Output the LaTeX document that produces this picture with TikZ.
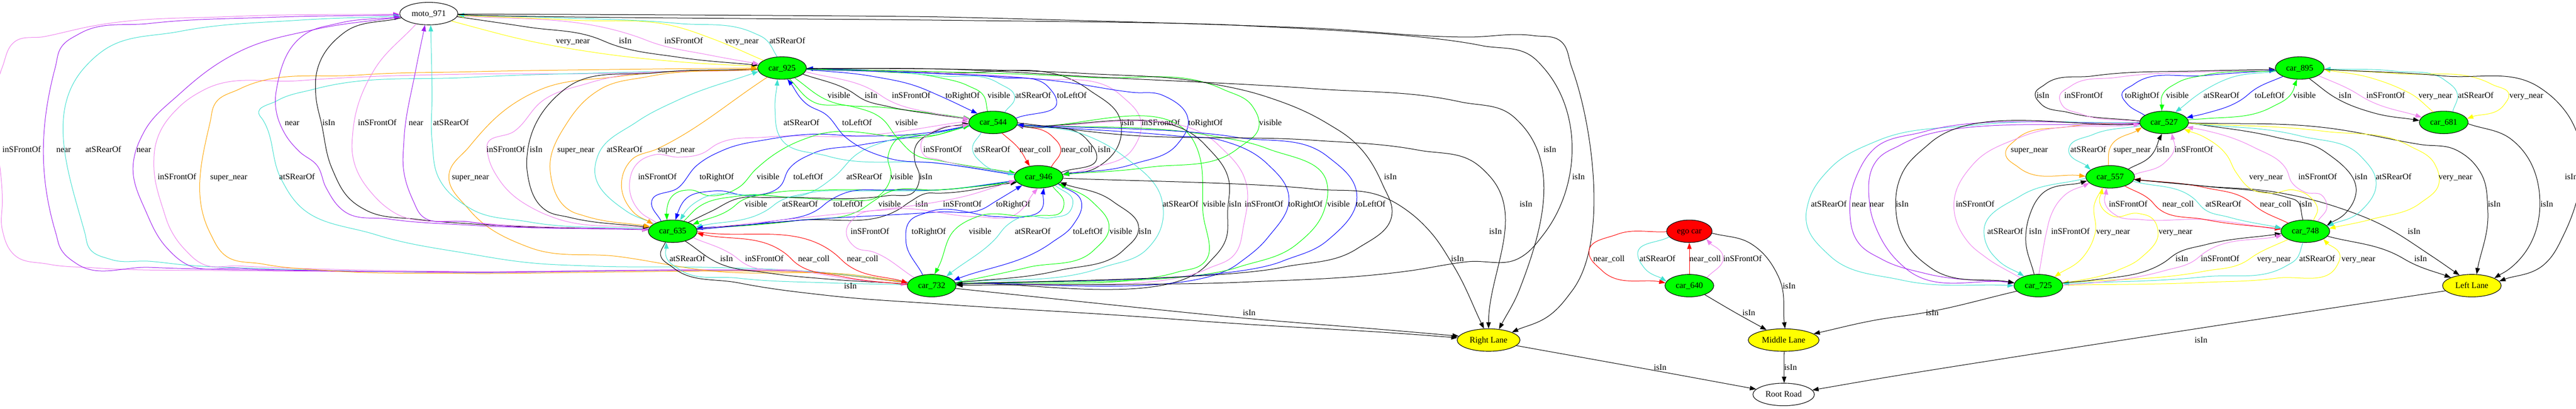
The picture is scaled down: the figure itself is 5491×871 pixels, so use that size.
\documentclass[tikz,border=0pt]{standalone}
\usepackage{fontspec}
\setmainfont{Liberation Serif}
\usetikzlibrary{shapes.geometric,arrows.meta}
\definecolor{cviol}{HTML}{EE82EE}
\definecolor{cpurp}{HTML}{A020F0}
\definecolor{cturq}{HTML}{40E0D0}
\definecolor{corange}{HTML}{FFA500}
\definecolor{clime}{HTML}{00FF00}
\definecolor{cblue}{HTML}{0000FF}
\definecolor{cred}{HTML}{FF0000}
\definecolor{cyel}{HTML}{FFFF00}
\tikzset{
 gnode/.style={ellipse,draw=black,line width=1.2pt,inner sep=0pt,minimum height=48pt,
   font=\fontsize{18}{20}\selectfont,text height=12pt,text depth=1pt,text=black},
 carnode/.style={gnode,fill=clime,minimum width=104pt},
 lanenode/.style={gnode,fill=cyel},
 edgeline/.style={line width=1.1pt,-{Triangle[length=13.3pt,width=9.6pt]}},
 edgelabel/.style={anchor=base west,inner sep=0pt,font=\fontsize{18}{20}\selectfont,text=black}
}
\newcounter{edgeno}
\makeatletter
\newcount\wpn \newcount\wpi \newcount\wpj \newcount\wpk \newdimen\edgd
\def\addpt#1#2{\advance\wpn1 \expandafter\edef\csname wpx\the\wpn\endcsname{#1}\expandafter\edef\csname wpy\the\wpn\endcsname{#2}}
\def\scanwp(#1,#2){\addpt{#1}{#2}\@ifnextchar(\scanwp{\relax}}
\def\cs#1{\csname #1\endcsname}
\def\mkpath{%
 % segment directions and lengths
 \wpi=1
 \loop\ifnum\wpi<\wpn
   \wpj=\wpi \advance\wpj1
   \pgfmathsetmacro\sdx{\cs{wpx\the\wpj}-(\cs{wpx\the\wpi})}%
   \pgfmathsetmacro\sdy{\cs{wpy\the\wpj}-(\cs{wpy\the\wpi})}%
   \pgfmathsetmacro\slen{max(veclen(\sdx,\sdy),0.01)}%
   \pgfmathsetmacro\sux{\sdx/\slen}\pgfmathsetmacro\suy{\sdy/\slen}%
   \expandafter\let\csname ux\the\wpi\endcsname\sux
   \expandafter\let\csname uy\the\wpi\endcsname\suy
   \expandafter\let\csname ln\the\wpi\endcsname\slen
   \advance\wpi1
 \repeat
 % tangents
 \expandafter\let\csname tx1\endcsname\relax
 \expandafter\edef\csname tx1\endcsname{\cs{ux1}}%
 \expandafter\edef\csname ty1\endcsname{\cs{uy1}}%
 \wpk=\wpn \advance\wpk-1
 \expandafter\edef\csname tx\the\wpn\endcsname{\cs{ux\the\wpk}}%
 \expandafter\edef\csname ty\the\wpn\endcsname{\cs{uy\the\wpk}}%
 \wpi=2
 \loop\ifnum\wpi<\wpn
   \wpk=\wpi \advance\wpk-1
   \pgfmathsetmacro\sw{\cs{ln\the\wpi}/(\cs{ln\the\wpk}+\cs{ln\the\wpi})}%
   \pgfmathsetmacro\stx{\sw*\cs{ux\the\wpk}+(1-\sw)*\cs{ux\the\wpi}}%
   \pgfmathsetmacro\sty{\sw*\cs{uy\the\wpk}+(1-\sw)*\cs{uy\the\wpi}}%
   \pgfmathsetmacro\sn{max(veclen(\stx,\sty),0.001)}%
   \pgfmathsetmacro\stx{\stx/\sn}\pgfmathsetmacro\sty{\sty/\sn}%
   \expandafter\let\csname tx\the\wpi\endcsname\stx
   \expandafter\let\csname ty\the\wpi\endcsname\sty
   \advance\wpi1
 \repeat
 % path text
 \edef\epath{(\cs{wpx1},\cs{wpy1})}%
 \wpi=1
 \loop\ifnum\wpi<\wpn
   \wpj=\wpi \advance\wpj1
   \pgfmathsetmacro\sL{min(0.36*\cs{ln\the\wpi},130)}%
   \pgfmathsetmacro\cax{\cs{wpx\the\wpi}+\cs{tx\the\wpi}*\sL}%
   \pgfmathsetmacro\cay{\cs{wpy\the\wpi}+\cs{ty\the\wpi}*\sL}%
   \pgfmathsetmacro\cbx{\cs{wpx\the\wpj}-\cs{tx\the\wpj}*\sL}%
   \pgfmathsetmacro\cby{\cs{wpy\the\wpj}-\cs{ty\the\wpj}*\sL}%
   \edef\epath{\epath .. controls (\cax,\cay) and (\cbx,\cby) .. (\cs{wpx\the\wpj},\cs{wpy\the\wpj})}%
   \advance\wpi1
 \repeat
}
% colour, source, target, tail hint, way points, head hint, label x, label y, label text
\newcommand\edge[9]{%
 \stepcounter{edgeno}%
 \coordinate (ta) at (#4);\coordinate (tb) at (#6);%
 \pgfcoordinate{ea}{\pgfpointshapeborder{#2}{\pgfpointanchor{ta}{center}}}%
 \pgfcoordinate{eb}{\pgfpointshapeborder{#3}{\pgfpointanchor{tb}{center}}}%
 \wpn=0
 \pgfextractx\edgd{\pgfpointanchor{ea}{center}}\edef\eax{\strip@pt\edgd}%
 \pgfextracty\edgd{\pgfpointanchor{ea}{center}}\edgd=-\edgd\edef\eay{\strip@pt\edgd}%
 \addpt{\eax}{\eay}%
 \scanwp #5\relax
 \pgfextractx\edgd{\pgfpointanchor{eb}{center}}\edef\ebx{\strip@pt\edgd}%
 \pgfextracty\edgd{\pgfpointanchor{eb}{center}}\edgd=-\edgd\edef\eby{\strip@pt\edgd}%
 \addpt{\ebx}{\eby}%
 \mkpath
 \edef\tmpdraw{\noexpand\draw[edgeline,#1] \epath;}\tmpdraw
 \node[edgelabel] (lab\theedgeno) at (#7,#8+6) {#9};%
}
\makeatother
\begin{document}
\begin{tikzpicture}[x=1pt,y=-1pt]
\useasboundingbox (0,0) rectangle (5491,871);
% nodes
\node[gnode,minimum width=124pt] (moto) at (914,29) {moto\_971};
\node[carnode] (c925) at (1667,145) {car\_925};
\node[carnode] (c544) at (2117,261) {car\_544};
\node[carnode] (c946) at (2214,377) {car\_946};
\node[carnode] (c635) at (1434,493) {car\_635};
\node[carnode] (c732) at (1986,609) {car\_732};
\node[lanenode,minimum width=134pt] (rl) at (3173,725) {Right Lane};
\node[lanenode,minimum width=151pt] (ml) at (3802,725) {Middle Lane};
\node[gnode,minimum width=131pt] (root) at (3802,841) {Root Road};
\node[gnode,fill=cred,minimum width=97pt] (ego) at (3601,493) {ego car};
\node[carnode] (c640) at (3601,609) {car\_640};
\node[carnode] (c895) at (4902,145) {car\_895};
\node[carnode] (c527) at (4613,261) {car\_527};
\node[carnode] (c681) at (5209,261) {car\_681};
\node[carnode] (c557) at (4498,377) {car\_557};
\node[carnode] (c748) at (4914,493) {car\_748};
\node[carnode] (c725) at (4345,609) {car\_725};
\node[lanenode,minimum width=125pt] (ll) at (5269,609) {Left Lane};
% moto <-> car_925
\edge{cyel}{moto}{c925}{963,45}{(1000,55)(1127,87)(1255,110)(1450,132)}{1605,141}{1185}{87}{very\_near}
\edge{black}{moto}{c925}{978,36}{(1127,58)(1268,80)(1306,95)(1446,122)}{1605,138}{1319}{87}{isIn}
\edge{cviol}{moto}{c925}{978,34}{(1000,35)(1357,78)(1395,92)(1510,117)}{1615,136}{1416}{87}{inSFrontOf}
\edge{cyel}{c925}{moto}{1628,129}{(1517,82)(1446,58)(1223,43)}{978,33}{1545}{87}{very\_near}
\edge{cturq}{c925}{moto}{1657,122}{(1631,83)(1606,70)(1446,50)(1191,38)}{978,32}{1640}{87}{atSRearOf}
% car_732 -> moto
\edge{cviol}{c732}{moto}{1935,603}{(1830,590)(1765,583)(1000,580)(500,577)(200,571)(102,563)(30,543)(5,490)(5,430)(5,143)(30,90)(95,78)(200,55)(500,35)}{845,30}{5}{319}{inSFrontOf}
\edge{cpurp}{c732}{moto}{1935,603}{(1830,590)(1765,582)(1000,580)(638,577)(319,570)(163,562)(131,533)(119,497)(118,143)(131,100)(169,72)(319,50)(574,37)}{845,32}{120}{319}{near}
\edge{cturq}{c732}{moto}{1935,603}{(1830,590)(1765,582)(1000,581)(765,578)(574,573)(395,565)(319,557)(236,553)(191,530)(181,497)(181,143)(217,110)(383,67)(638,43)}{845,35}{182}{319}{atSRearOf}
\edge{cpurp}{c732}{moto}{1935,603}{(1830,590)(1765,582)(1000,581)(700,577)(510,572)(395,562)(357,530)(312,453)(284,350)(306,283)(383,200)(510,110)(670,63)}{845,37}{291}{319}{near}
% car_732 -> car_925
\edge{cviol}{c732}{c925}{1935,603}{(1830,590)(1765,582)(1000,579)(700,574)(510,567)(430,562)(395,533)(364,490)(348,447)(328,350)(332,307)(383,227)(434,192)(638,172)(1000,158)(1255,157)}{1615,147}{336}{377}{inSFrontOf}
\edge{corange}{c732}{c925}{1935,603}{(1830,590)(1765,583)(1000,583)(702,577)(561,563)(478,543)(448,497)(448,260)(459,220)(510,190)(765,160)(1000,153)(1319,148)}{1615,145}{448}{377}{super\_near}
\edge{cturq}{c732}{c925}{1932,600}{(1700,577)(1510,570)(1255,567)(1127,560)(1000,541)(800,500)(630,430)(600,383)(560,255)(552,243)(590,215)(670,190)(1000,165)(1300,155)}{1620,148}{595}{377}{atSRearOf}
\edge{corange}{c732}{c925}{1931,602}{(1829,587)(1510,577)(1319,547)(1127,527)(1000,447)(957,373)(1000,313)(1108,213)(1147,193)(1319,163)}{1616,146}{963}{377}{super\_near}
% moto <-> car_635
\edge{cpurp}{c635}{moto}{1385,490}{(1000,480)(829,467)(733,450)(695,400)(676,353)(638,323)(606,283)(587,213)(590,187)(650,73)(720,50)}{845,37}{607}{261}{near}
\edge{black}{moto}{c635}{855,38}{(733,70)(676,150)(673,200)(686,267)(708,360)(752,430)(778,447)(893,468)(1000,477)}{1385,490}{687}{261}{isIn}
\edge{cviol}{moto}{c635}{886,52}{(797,150)(752,283)(752,333)(797,417)(835,450)(1000,473)}{1385,490}{763}{261}{inSFrontOf}
\edge{cpurp}{c635}{moto}{1385,490}{(1000,473)(893,453)(883,433)(861,367)(861,300)(886,150)}{906,53}{871}{261}{near}
\edge{cturq}{c635}{moto}{1385,488}{(1127,473)(1000,443)(937,383)(921,300)(921,200)}{918,53}{923}{261}{atSRearOf}
% car_925 <-> car_635
\edge{cviol}{c925}{c635}{1616,148}{(1255,177)(1159,213)(1096,280)(1038,310)(1040,330)(1064,383)(1147,450)(1178,463)}{1385,487}{1037}{319}{inSFrontOf}
\edge{black}{c925}{c635}{1616,148}{(1400,155)(1204,190)(1124,327)(1124,367)(1166,450)(1212,463)}{1385,485}{1129}{319}{isIn}
\edge{corange}{c925}{c635}{1616,148}{(1383,163)(1280,190)(1210,260)(1173,367)(1217,450)(1245,460)}{1385,483}{1188}{319}{super\_near}
\edge{cturq}{c635}{c925}{1390,475}{(1335,450)(1268,360)(1274,333)(1357,260)(1446,213)}{1618,152}{1293}{319}{atSRearOf}
\edge{corange}{c925}{c635}{1635,165}{(1402,317)(1344,343)(1325,387)(1348,450)}{1392,478}{1402}{319}{super\_near}
% car_635 <-> car_544
\edge{cviol}{c635}{c544}{1400,475}{(1363,450)(1342,390)(1357,350)(1395,330)(1446,335)(1497,327)(1529,307)(1638,292)(1829,290)}{2065,258}{1360}{377}{inSFrontOf}
\edge{cblue}{c635}{c544}{1410,472}{(1389,430)(1446,400)(1485,353)(1542,320)(1638,297)(1733,286)(1829,290)(2000,280)}{2065,268}{1491}{377}{toRightOf}
\edge{clime}{c544}{c635}{2065,265}{(2000,287)(1733,290)(1670,317)(1612,360)(1574,400)(1510,417)(1472,405)(1434,417)(1421,450)}{1421,468}{1613}{377}{visible}
\edge{cblue}{c544}{c635}{2065,268}{(2000,282)(1829,310)(1733,327)(1682,360)(1663,397)(1606,417)(1523,407)(1459,427)(1446,450)}{1440,468}{1691}{377}{toLeftOf}
\edge{cturq}{c544}{c635}{2065,270}{(2000,283)(1893,300)(1829,327)(1778,377)(1721,413)(1600,415)(1497,423)(1462,450)}{1450,469}{1804}{377}{atSRearOf}
\edge{clime}{c635}{c544}{1459,470}{(1491,440)(1574,418)(1701,422)(1797,426)(1874,417)(1899,377)(1893,333)(1906,303)(2000,287)}{2065,268}{1898}{377}{visible}
\edge{black}{c635}{c544}{1469,473}{(1517,450)(1574,423)(1638,421)(1893,417)(1950,407)(1960,377)(1950,343)(1950,317)(2000,277)}{2065,263}{1960}{377}{isIn}
% car_946 <-> car_635
\edge{clime}{c946}{c635}{2162,388}{(2000,405)(1765,405)(1638,413)(1577,430)(1561,443)}{1481,477}{1587}{435}{visible}
\edge{cturq}{c946}{c635}{2162,385}{(2000,405)(1850,407)(1720,412)(1660,430)(1638,446)}{1491,483}{1667}{435}{atSRearOf}
\edge{cblue}{c946}{c635}{2162,386}{(2000,405)(1893,405)(1797,413)(1765,430)(1746,445)(1638,473)}{1491,486}{1776}{435}{toLeftOf}
\edge{clime}{c635}{c946}{1491,488}{(1700,470)(1835,447)(1860,430)(1893,410)(2000,405)}{2162,390}{1872}{435}{visible}
\edge{black}{c635}{c946}{1491,487}{(1700,470)(1918,445)(1940,430)(1976,412)(2000,412)}{2162,390}{1951}{435}{isIn}
\edge{cviol}{c635}{c946}{1491,488}{(1750,460)(1893,445)(2000,430)(2050,420)}{2162,385}{2010}{435}{inSFrontOf}
\edge{cblue}{c635}{c946}{1491,489}{(1700,470)(2000,452)(2096,445)(2121,430)}{2179,395}{2123}{435}{toRightOf}
% car_925 <-> car_544
\edge{clime}{c925}{c544}{1695,167}{(1762,213)(1893,230)(2000,243)}{2067,253}{1764}{203}{visible}
\edge{black}{c925}{c544}{1711,158}{(1810,193)(1842,213)(1893,227)(2000,245)}{2067,254}{1843}{203}{isIn}
\edge{cviol}{c925}{c544}{1719,153}{(1861,193)(1893,213)(2000,243)}{2067,254}{1901}{203}{inSFrontOf}
\edge{cblue}{c925}{c544}{1719,148}{(1861,163)(1957,185)(2000,203)}{2080,240}{2015}{203}{toRightOf}
\edge{clime}{c544}{c925}{2105,237}{(2096,203)(2064,183)(2000,165)(1861,152)}{1719,146}{2105}{203}{visible}
\edge{cturq}{c544}{c925}{2143,238}{(2163,207)(2128,177)(2000,162)(1861,150)}{1719,146}{2164}{203}{atSRearOf}
\edge{cblue}{c544}{c925}{2166,252}{(2252,213)(2236,187)(2128,165)(2000,157)(1861,150)}{1719,146}{2253}{203}{toLeftOf}
% car_925 <-> car_946
\edge{cturq}{c946}{c925}{2153,370}{(2000,348)(1765,333)(1663,293)(1652,233)}{1657,170}{1670}{261}{atSRearOf}
\edge{cblue}{c946}{c925}{2153,372}{(2000,348)(1893,337)(1803,293)(1759,243)(1721,223)}{1679,170}{1795}{261}{toLeftOf}
\edge{clime}{c925}{c946}{1682,167}{(1733,217)(1816,227)(1880,253)(1912,293)(1957,333)(2000,342)}{2160,368}{1908}{261}{visible}
\edge{black}{c925}{c946}{1719,148}{(2000,155)(2319,190)(2389,260)(2389,293)(2338,357)}{2264,372}{2390}{261}{isIn}
\edge{cviol}{c925}{c946}{1719,148}{(2000,155)(2191,167)(2389,203)(2432,260)(2415,317)(2319,360)}{2264,374}{2433}{261}{inSFrontOf}
\edge{cblue}{c925}{c946}{1719,148}{(2000,157)(2255,173)(2415,197)(2478,203)(2533,260)(2510,307)(2415,350)}{2264,372}{2533}{261}{toRightOf}
\edge{clime}{c925}{c946}{1719,148}{(2000,153)(2319,165)(2606,190)(2670,227)(2684,267)(2638,317)(2446,357)}{2264,372}{2684}{261}{visible}
% car_544 <-> car_946
\edge{cturq}{c544}{c946}{2089,285}{(2073,317)(2096,350)}{2160,373}{2077}{319}{atSRearOf}
\edge{cred}{c544}{c946}{2137,285}{(2172,317)}{2194,353}{2173}{319}{near\_coll}
\edge{cred}{c946}{c544}{2242,355}{(2261,317)(2242,290)}{2172,265}{2262}{319}{near\_coll}
\edge{black}{c946}{c544}{2265,367}{(2338,333)(2319,300)}{2169,267}{2340}{319}{isIn}
\edge{cviol}{c946}{c544}{2160,370}{(2000,340)(1969,330)(1963,307)(1995,277)}{2065,266}{1968}{319}{inSFrontOf}
% car_544 <-> car_732
\edge{cturq}{c544}{c732}{2169,265}{(2319,290)(2395,333)(2478,433)(2478,473)(2446,530)(2351,570)}{2038,603}{2478}{435}{atSRearOf}
\edge{clime}{c732}{c544}{2038,605}{(2510,580)(2564,562)(2564,450)(2548,308)}{2169,267}{2564}{435}{visible}
\edge{black}{c544}{c732}{2169,267}{(2568,308)(2619,383)(2617,447)(2612,513)(2574,563)}{2038,606}{2619}{435}{isIn}
\edge{cviol}{c732}{c544}{2038,605}{(2574,573)(2631,543)(2651,480)(2654,383)(2596,308)}{2169,267}{2653}{435}{inSFrontOf}
\edge{cblue}{c544}{c732}{2169,267}{(2510,290)(2606,300)(2702,350)(2747,417)(2702,507)(2638,563)}{2038,606}{2746}{435}{toRightOf}
\edge{clime}{c544}{c732}{2169,267}{(2574,288)(2702,317)(2829,393)(2823,447)(2765,520)(2638,570)}{2038,605}{2829}{435}{visible}
\edge{cblue}{c732}{c544}{2038,606}{(2733,557)(2829,513)(2892,413)(2829,333)(2638,293)}{2169,266}{2890}{435}{toLeftOf}
% car_732 <-> car_946
\edge{cviol}{c732}{c946}{1938,587}{(1861,537)(1823,527)(1804,493)(1823,463)(1893,447)(2083,462)(2159,460)}{2212,403}{1813}{493}{inSFrontOf}
\edge{cblue}{c732}{c946}{1966,585}{(1931,513)(1938,473)(1976,453)(2128,462)(2185,462)(2217,450)}{2226,403}{1943}{493}{toRightOf}
\edge{clime}{c946}{c732}{2245,398}{(2268,433)(2265,447)(2210,460)(2083,462)(2038,487)(2000,570)}{1992,585}{2065}{493}{visible}
\edge{cturq}{c946}{c732}{2249,395}{(2287,430)(2281,450)(2242,464)(2179,462)(2147,480)(2121,510)(2025,583)}{2019,588}{2163}{493}{atSRearOf}
\edge{cblue}{c946}{c732}{2258,393}{(2305,430)(2287,480)(2242,517)}{2035,597}{2287}{493}{toLeftOf}
\edge{clime}{c732}{c946}{2038,603}{(2191,570)(2332,533)(2364,487)(2328,430)}{2262,393}{2365}{493}{visible}
\edge{black}{c732}{c946}{2038,603}{(2255,577)(2395,533)(2427,490)(2373,430)}{2271,392}{2427}{493}{isIn}
% car_635 <-> car_732
\edge{cturq}{c732}{c635}{1934,607}{(1765,603)(1574,593)(1446,573)(1421,550)}{1420,517}{1427}{551}{atSRearOf}
\edge{black}{c635}{c732}{1462,515}{(1534,562)(1638,582)(1765,595)}{1931,605}{1535}{551}{isIn}
\edge{cviol}{c635}{c732}{1478,507}{(1561,543)(1587,562)(1702,577)(1829,597)}{1931,606}{1588}{551}{inSFrontOf}
\edge{cred}{c732}{c635}{1934,607}{(1797,590)(1698,562)(1676,542)}{1486,497}{1701}{551}{near\_coll}
\edge{cred}{c635}{c732}{1486,494}{(1782,543)(1803,562)}{1934,603}{1805}{551}{near\_coll}
% to Right Lane
\edge{black}{moto}{rl}{978,30}{(1000,30)(2000,36)(2640,54)(2800,60)(3130,79)(3269,76)(3327,88)(3350,143)(3351,620)(3306,670)}{3233,705}{3351}{377}{isIn}
\edge{black}{moto}{c732}{978,31}{(1000,32)(2000,43)(2640,54)(3157,97)(3269,123)(3289,143)(3290,500)(3239,550)(3128,558)(3000,578)(2638,602)}{2038,608}{3290}{319}{isIn}
\edge{black}{c925}{rl}{1719,146}{(2000,147)(2350,165)(2800,189)(3112,217)(3224,247)(3238,260)(3239,617)}{3195,702}{3239}{435}{isIn}
\edge{black}{c925}{c732}{1719,146}{(2000,147)(2319,157)(2574,177)(2702,207)(2829,263)(2889,305)(2947,393)(2967,457)(2893,530)(2733,570)}{2038,606}{2950}{377}{isIn}
\edge{black}{c544}{rl}{2169,262}{(2389,287)(2800,299)(3023,320)(3148,350)(3173,373)}{3173,701}{3174}{493}{isIn}
\edge{black}{c946}{rl}{2266,380}{(2800,403)(2956,423)(3001,450)(3045,490)(3096,563)}{3159,690}{3093}{551}{isIn}
\edge{black}{c635}{rl}{1418,517}{(1408,543)(1434,570)(1574,603)(1765,630)(2000,648)(2383,672)(2638,690)(3000,712)}{3105,720}{1799}{609}{isIn}
\edge{black}{c732}{rl}{2037,615}{(2649,678)(3000,707)}{3105,716}{2649}{667}{isIn}
% ego / car_640
\edge{cred}{ego}{c640}{3553,494}{(3446,500)(3387,537)(3415,577)}{3550,603}{3396}{551}{near\_coll}
\edge{cturq}{ego}{c640}{3558,505}{(3491,543)(3504,570)}{3553,600}{3495}{551}{atSRearOf}
\edge{cred}{c640}{ego}{3601,585}{(3601,551)}{3601,517}{3601}{551}{near\_coll}
\edge{cviol}{c640}{ego}{3638,592}{(3673,550)}{3638,510}{3673}{551}{inSFrontOf}
\edge{black}{ego}{ml}{3649,497}{(3733,520)(3791,590)}{3805,700}{3800}{609}{isIn}
\edge{black}{c640}{ml}{3635,629}{(3700,667)}{3765,703}{3714}{667}{isIn}
\edge{black}{ml}{root}{3803,749}{(3803,783)}{3803,817}{3803}{783}{isIn}
\edge{black}{rl}{root}{3233,737}{(3489,783)}{3745,830}{3525}{783}{isIn}
\edge{black}{ll}{root}{5213,620}{(4700,698)(4000,808)}{3861,832}{4678}{725}{isIn}
\edge{black}{c725}{ml}{4298,621}{(4100,667)(4000,682)}{3864,712}{4105}{667}{isIn}
% car_527 <-> car_895
\edge{black}{c527}{c895}{4562,258}{(4410,240)(4349,220)(4338,202)(4359,180)(4461,162)(4700,151)}{4850,148}{4341}{203}{isIn}
\edge{cviol}{c527}{c895}{4562,259}{(4436,243)(4395,223)(4390,207)(4415,183)(4512,165)(4700,153)}{4850,150}{4400}{203}{inSFrontOf}
\edge{cblue}{c527}{c895}{4572,246}{(4533,220)(4523,203)(4548,180)(4700,161)}{4850,150}{4529}{203}{toRightOf}
\edge{clime}{c895}{c527}{4850,151}{(4700,160)(4640,177)(4609,203)}{4608,237}{4617}{203}{visible}
\edge{cturq}{c895}{c527}{4851,152}{(4751,167)(4700,192)}{4637,239}{4697}{203}{atSRearOf}
\edge{cblue}{c895}{c527}{4866,163}{(4807,190)(4777,213)(4700,242)}{4660,251}{4806}{203}{toLeftOf}
\edge{clime}{c527}{c895}{4665,255}{(4700,253)(4843,228)(4884,200)}{4896,170}{4888}{203}{visible}
% car_895 <-> car_681
\edge{black}{c895}{c681}{4922,167}{(4981,210)(5057,240)}{5157,257}{4985}{203}{isIn}
\edge{cviol}{c895}{c681}{4944,162}{(5011,192)(5047,213)}{5162,250}{5044}{203}{inSFrontOf}
\edge{cyel}{c681}{c895}{5187,239}{(5139,200)(5123,192)(5057,167)}{4954,148}{5155}{203}{very\_near}
\edge{cturq}{c681}{c895}{5228,238}{(5238,200)(5210,170)(5108,152)}{4955,147}{5239}{203}{atSRearOf}
\edge{cyel}{c895}{c681}{4954,148}{(5108,157)(5312,180)(5348,203)(5338,223)}{5259,253}{5349}{203}{very\_near}
% to Left Lane
\edge{black}{c895}{ll}{4954,148}{(5210,162)(5414,187)(5465,233)(5465,500)(5424,563)}{5325,600}{5467}{377}{isIn}
\edge{black}{c681}{ll}{5262,264}{(5353,297)(5414,433)(5353,570)}{5317,593}{5415}{435}{isIn}
\edge{black}{c527}{ll}{4665,262}{(4955,272)(5159,308)(5236,320)(5287,367)(5303,450)}{5279,585}{5303}{435}{isIn}
\edge{black}{c748}{ll}{4963,504}{(5108,543)(5139,560)}{5225,592}{5146}{551}{isIn}
\edge{black}{c557}{ll}{4550,383}{(4700,397)(4853,410)(5006,450)(5057,470)(5185,547)}{5243,587}{5132}{493}{isIn}
% car_527 <-> car_557
\edge{corange}{c527}{c557}{4562,262}{(4410,270)(4298,297)(4275,327)(4303,357)}{4447,376}{4286}{319}{super\_near}
\edge{cturq}{c527}{c557}{4563,268}{(4461,287)(4410,317)}{4456,362}{4413}{319}{atSRearOf}
\edge{corange}{c557}{c527}{4494,353}{(4497,317)}{4563,272}{4505}{319}{super\_near}
\edge{black}{c557}{c527}{4538,360}{(4584,333)}{4608,287}{4597}{319}{isIn}
\edge{cviol}{c557}{c527}{4550,372}{(4614,347)(4635,317)}{4630,285}{4635}{319}{inSFrontOf}
% car_527 <-> car_725
\edge{cturq}{c527}{c725}{4562,261}{(4206,267)(4002,300)(3900,360)(3855,430)(3850,470)(3900,545)(4053,597)}{4293,609}{3860}{435}{atSRearOf}
\edge{cpurp}{c527}{c725}{4562,262}{(4104,280)(3992,320)(3961,367)(3943,450)(3961,517)(4012,553)(4104,583)}{4293,603}{3947}{435}{near}
\edge{cpurp}{c527}{c725}{4562,263}{(4053,308)(4002,340)(3985,433)(4002,493)(4063,573)}{4293,603}{3985}{435}{near}
\edge{black}{c527}{c725}{4562,264}{(4114,305)(4053,373)(4041,443)(4058,510)(4114,570)}{4293,603}{4041}{435}{isIn}
\edge{cviol}{c725}{c527}{4308,593}{(4232,548)(4196,517)(4165,433)(4206,350)(4308,292)}{4562,265}{4169}{435}{inSFrontOf}
% car_557 <-> car_725
\edge{cturq}{c557}{c725}{4447,380}{(4308,417)(4229,493)(4237,527)(4257,553)}{4313,588}{4236}{493}{atSRearOf}
\edge{black}{c725}{c557}{4336,585}{(4318,510)(4326,460)(4349,417)}{4451,385}{4325}{493}{isIn}
\edge{cviol}{c725}{c557}{4346,585}{(4364,487)(4369,467)(4400,417)}{4454,390}{4372}{493}{inSFrontOf}
\edge{cyel}{c557}{c725}{4482,400}{(4465,433)(4466,497)(4441,547)}{4380,590}{4468}{493}{very\_near}
\edge{cyel}{c725}{c557}{4396,605}{(4512,577)(4563,550)(4600,493)(4589,467)(4558,455)(4502,460)(4476,433)}{4478,405}{4601}{493}{very\_near}
% car_557 <-> car_748
\edge{cviol}{c748}{c557}{4862,490}{(4700,468)(4563,468)(4512,460)(4487,433)}{4488,408}{4495}{435}{inSFrontOf}
\edge{cred}{c557}{c748}{4530,397}{(4584,427)(4599,443)(4700,468)}{4858,488}{4609}{435}{near\_coll}
\edge{cturq}{c557}{c748}{4550,387}{(4676,423)(4700,447)(4751,463)}{4853,485}{4701}{435}{atSRearOf}
\edge{cred}{c748}{c557}{4876,475}{(4812,443)(4792,427)(4700,400)}{4550,382}{4817}{435}{near\_coll}
\edge{black}{c748}{c557}{4909,469}{(4894,427)(4879,422)(4700,397)}{4550,383}{4901}{435}{isIn}
% car_527 <-> car_748
\edge{cyel}{c748}{c527}{4931,470}{(4940,447)(4924,420)(4889,405)(4843,412)(4802,405)(4766,367)(4746,330)(4700,293)}{4660,277}{4794}{377}{very\_near}
\edge{cviol}{c748}{c527}{4940,472}{(4960,440)(4950,417)(4914,410)(4886,390)(4873,360)(4802,313)(4700,278)}{4668,272}{4899}{377}{inSFrontOf}
\edge{black}{c527}{c748}{4665,262}{(4853,293)(4955,323)(5021,417)(5001,453)}{4963,480}{5019}{377}{isIn}
\edge{cturq}{c527}{c748}{4665,263}{(4904,290)(5032,333)(5065,390)(5032,450)}{4963,482}{5064}{377}{atSRearOf}
\edge{cyel}{c527}{c748}{4665,263}{(4955,280)(5134,310)(5190,350)(5199,390)(5159,433)(5057,467)}{4965,487}{5198}{377}{very\_near}
% car_748 <-> car_725
\edge{cyel}{c748}{c725}{4876,511}{(4810,542)(4782,560)(4700,578)}{4400,603}{4811}{551}{very\_near}
\edge{cturq}{c748}{c725}{4909,517}{(4894,553)(4873,567)(4700,590)}{4397,605}{4901}{551}{atSRearOf}
\edge{cyel}{c725}{c748}{4397,608}{(4700,602)(4853,593)(4981,567)(4988,549)}{4953,510}{4991}{551}{very\_near}
\edge{black}{c725}{c748}{4397,603}{(4461,597)(4612,560)(4640,540)(4700,522)}{4862,498}{4637}{551}{isIn}
\edge{cviol}{c725}{c748}{4397,608}{(4461,603)(4614,577)(4675,557)(4700,538)}{4862,502}{4691}{551}{inSFrontOf}
\end{tikzpicture}
\end{document}
